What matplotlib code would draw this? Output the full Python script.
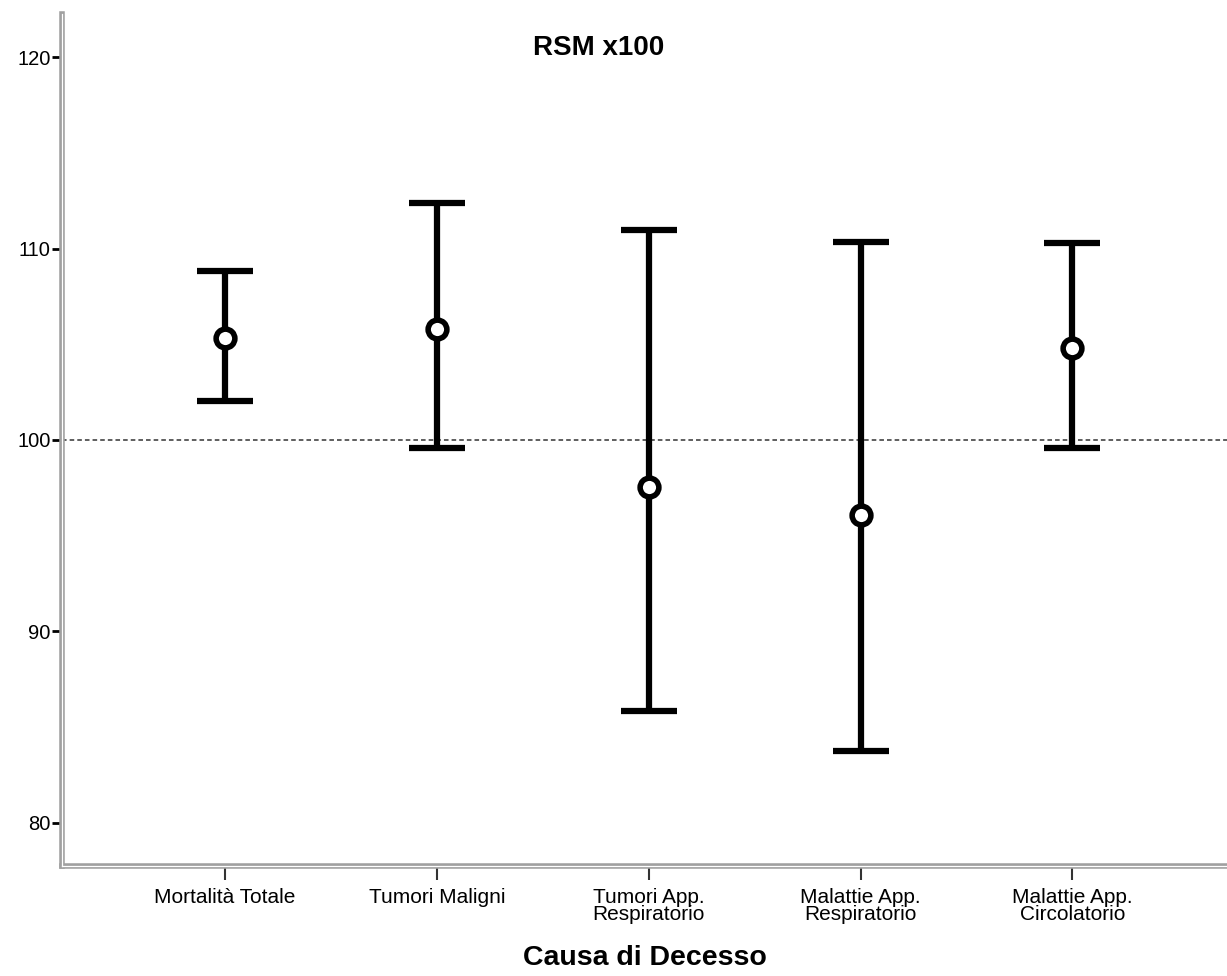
"""Error-bar chart of standardised mortality ratios (RSM x100) by cause of death."""

import matplotlib

matplotlib.use("Agg")

import matplotlib.pyplot as plt
import numpy as np

causes = [
    "Mortalità Totale",
    "Tumori Maligni",
    "Tumori App.\nRespiratorio",
    "Malattie App.\nRespiratorio",
    "Malattie App.\nCircolatorio",
]
rsm = [105.35, 105.8, 97.55, 96.08, 104.8]
ci_low = [102.04, 99.6, 85.85, 83.76, 99.6]
ci_high = [108.8, 112.4, 110.97, 110.34, 110.29]
y_ticks = [80, 90, 100, 110, 120]

plt.rcParams["font.family"] = ["Liberation Sans", "DejaVu Sans"]

fig = plt.figure(figsize=(12.27, 9.76), dpi=100)
ax = fig.add_axes([0.0505, 0.1127, 0.9495, 0.873])

x = np.arange(len(causes))
mid = np.array(rsm)
err = np.vstack([mid - np.array(ci_low), np.array(ci_high) - mid])

ax.axhline(100, color="#333333", lw=1.1, ls=(0, (3, 2)), zorder=1)
ax.errorbar(
    x, mid, yerr=err, fmt="none", ecolor="black", elinewidth=4.5,
    capsize=20, capthick=4.5, zorder=2,
)
ax.plot(
    x, mid, "o", ms=13.5, mfc="white", mec="black", mew=4, zorder=3,
)

ax.set_xlim(-0.77, 4.73)
ax.set_ylim(77.75, 122.25)
ax.set_yticks(y_ticks)
ax.set_xticks(x)
ax.set_xticklabels(causes, fontsize=15, linespacing=0.85)
ax.tick_params(axis="y", labelsize=14.5, length=7, width=2, direction="out", pad=1)
ax.tick_params(axis="x", length=10, width=1.5, color="#333333", pad=6)

ax.text(0.461, 0.96, "RSM x100", transform=ax.transAxes, ha="center", va="center",
        fontsize=20, fontweight="bold")
ax.set_xlabel("Causa di Decesso", fontsize=20.5, fontweight="bold", labelpad=15)

for side in ("top", "right"):
    ax.spines[side].set_visible(False)
for side in ("left", "bottom"):
    ax.spines[side].set_color("#a0a0a0")
    ax.spines[side].set_linewidth(4)
# thin white line to give the doubled axis look
ax.plot([0, 0], [0, 1], transform=ax.transAxes, color="white", lw=0.9,
        clip_on=False, zorder=5)
ax.plot([0, 1], [0, 0], transform=ax.transAxes, color="white", lw=0.9,
        clip_on=False, zorder=5)

fig.savefig("out.png", dpi=100)
